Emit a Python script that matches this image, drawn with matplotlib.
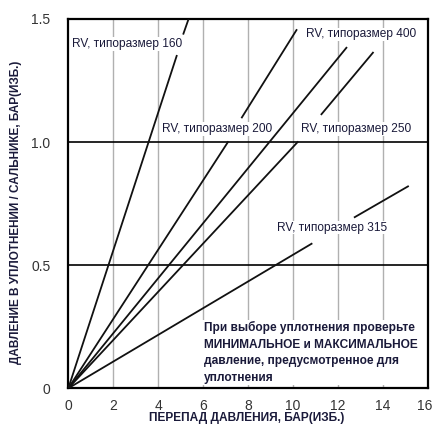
import numpy as np
import matplotlib.pyplot as plt
from matplotlib.transforms import ScaledTranslation

plt.rcParams['font.family'] = ['Liberation Sans', 'DejaVu Sans']

# line data (NaN = gap where a label sits)
rv160_x = [0, 4.82, np.nan, 5.12, 5.35]
rv160_y = [0, 1.35, np.nan, 1.44, 1.50]
rv200_x = [0, 7.10, np.nan, 7.72, 10.15]
rv200_y = [0, 1.00, np.nan, 1.10, 1.455]
rv400_x = [0, 12.37]
rv400_y = [0, 1.383]
rv250_x = [0, 10.20, np.nan, 11.26, 13.55]
rv250_y = [0, 1.00, np.nan, 1.113, 1.363]
rv315_x = [0, 10.82, np.nan, 12.74, 15.11]
rv315_y = [0, 0.587, np.nan, 0.695, 0.82]

series = [(rv160_x, rv160_y), (rv200_x, rv200_y), (rv400_x, rv400_y),
          (rv250_x, rv250_y), (rv315_x, rv315_y)]

# label text and anchor (left edge, vertical centre)
labels = ['RV, типоразмер 160', 'RV, типоразмер 200', 'RV, типоразмер 250',
          'RV, типоразмер 400', 'RV, типоразмер 315']
label_x = [0.16, 4.15, 10.37, 10.56, 9.29]
label_y = [1.398, 1.053, 1.053, 1.437, 0.652]

x_ticks = [0, 2, 4, 6, 8, 10, 12, 14, 16]
y_ticks = [0, 0.5, 1.0, 1.5]
y_ticklabels = ['0', '0.5', '1.0', '1.5']

note = ('При выборе уплотнения проверьте\nМИНИМАЛЬНОЕ и МАКСИМАЛЬНОЕ\n'
        'давление, предусмотренное для\nуплотнения')

fig = plt.figure(figsize=(4.34, 4.25), dpi=100)
ax = fig.add_axes([0.1574, 0.0864, 0.8288, 0.869])
ax.set_xlim(0, 16)
ax.set_ylim(0, 1.5)

# vertical grey grid, black horizontal references
for xv in x_ticks[1:-1]:
    ax.axvline(xv, color='#b0b0b0', lw=1.0, zorder=1)
for yv in y_ticks[1:-1]:
    ax.axhline(yv, color='black', lw=1.2, zorder=2)

for xs, ys in series:
    ax.plot(xs, ys, color='#111111', lw=1.3, zorder=3)

for t, lx, ly in zip(labels, label_x, label_y):
    ax.text(lx, ly, t, fontsize=8.6, color='#1a1a3a', va='center', ha='left',
            zorder=4, bbox=dict(facecolor='white', edgecolor='none', pad=0.5))

ax.text(6.03, 0.146, note, fontsize=8.6, fontweight='bold', color='#1a1a3a',
        va='center', ha='left', linespacing=1.5, zorder=4,
        bbox=dict(facecolor='white', edgecolor='none', pad=1))

ax.set_xticks(x_ticks)
ax.set_yticks(y_ticks)
ax.set_yticklabels(y_ticklabels)
ax.tick_params(length=0, labelsize=10, labelcolor='#333333', pad=8)
ax.tick_params(axis='y', pad=13)
for s in ax.spines.values():
    s.set_linewidth(1.6)
    s.set_color('black')

# last x tick label sits at the figure edge; nudge it inward a little
last = ax.get_xticklabels()[-1]
last.set_transform(last.get_transform() + ScaledTranslation(-3 / 100, 0, fig.dpi_scale_trans))

fig.text(0.568, 0.016, 'ПЕРЕПАД ДАВЛЕНИЯ, БАР(ИЗБ.)', fontsize=8.6,
         fontweight='bold', color='#1a1a3a', ha='center', va='center')
fig.text(0.037, 0.5, 'ДАВЛЕНИЕ В УПЛОТНЕНИИ / САЛЬНИКЕ, БАР(ИЗБ.)', fontsize=8.5,
         fontweight='bold', color='#1a1a3a', ha='center', va='center',
         rotation=90)

fig.savefig('out.png', dpi=100)
